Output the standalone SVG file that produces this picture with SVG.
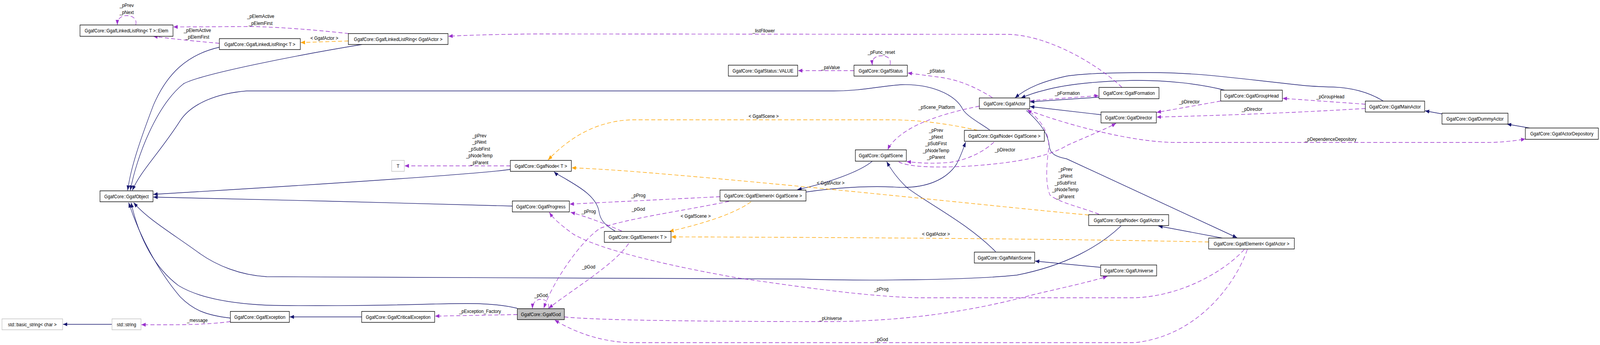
<svg xmlns="http://www.w3.org/2000/svg" width="4800" height="884" viewBox="0 0 4800 884">
<style>
text{font-family:"Liberation Sans",Arial,sans-serif;font-size:13.4px;fill:#000}
.n text{text-anchor:middle}
.l{text-anchor:middle}
.b{fill:#fff;stroke:#000;stroke-width:1.4}
.g{fill:#fff;stroke:#bfbfbf;stroke-width:1.4}
.s{fill:#bfbfbf;stroke:#000;stroke-width:1.4}
.eb{fill:none;stroke:#191970;stroke-width:1.4;marker-end:url(#mb)}
.ep{fill:none;stroke:#9a32cd;stroke-width:1.4;stroke-dasharray:12,7;marker-end:url(#mp)}
.eo{fill:none;stroke:#ffa500;stroke-width:1.4;stroke-dasharray:12,7;marker-end:url(#mo)}
</style>
<defs>
<marker id="mb" markerUnits="userSpaceOnUse" markerWidth="14" markerHeight="11" refX="13" refY="5" orient="auto"><path d="M0,0 L13,5 L0,10 z" fill="#191970"/></marker>
<marker id="mp" markerUnits="userSpaceOnUse" markerWidth="14" markerHeight="11" refX="13" refY="5" orient="auto"><path d="M0,0 L13,5 L0,10 z" fill="#9a32cd"/></marker>
<marker id="mo" markerUnits="userSpaceOnUse" markerWidth="14" markerHeight="11" refX="13" refY="5" orient="auto"><path d="M0,0 L13,5 L0,10 z" fill="#ffa500"/></marker>
</defs>
<rect width="4800" height="884" fill="#fff"/>
<g id="diagram" transform="scale(0.853333 1)">
<g id="connectors">
<path class="eb" d="M658,121 C560,140 500,190 460,270 C420,360 392,430 383,488"/>
<path class="eb" d="M1086,114 C900,140 600,190 550,215 C470,270 410,400 391,488"/>
<path class="eb" d="M2969,333 C2930,310 2895,295 2885,275 C2860,240 2790,215 2706,217 C2640,220 2590,233 2502,233 L740,233 C640,240 570,270 540,310 C480,390 420,440 397,488"/>
<path class="eb" d="M1531,434 C1440,446 900,476 460,498"/>
<path class="eb" d="M1537,528 C1200,520 800,511 460,505"/>
<path class="eb" d="M3363,579 C3300,630 3200,680 3050,705 C2900,718 2600,720 2400,715 L800,709 C720,705 650,680 600,650 C520,600 440,560 401,519"/>
<path class="eb" d="M1552,790 C1480,775 1400,777 1300,779 C1100,784 900,784 800,782 C700,778 600,765 536,732 C470,690 420,620 393,519"/>
<path class="eb" d="M691,815 C620,808 580,795 540,760 C480,700 420,610 386,519"/>
<path class="eb" d="M336,831 L189,831"/>
<path class="eb" d="M1085,812 L869,812"/>
<path class="eb" d="M1845,592 C1810,575 1800,560 1797,542 C1790,505 1740,480 1700,460 C1680,450 1668,445 1662,440"/>
<path class="eb" d="M2418,492 C2500,482 2600,475 2700,480 C2780,482 2840,460 2870,420 C2885,395 2890,380 2897,364"/>
<path class="eb" d="M2617,413 C2580,440 2480,470 2392,486"/>
<path class="eb" d="M2987,645 C2900,570 2780,520 2720,480 C2690,455 2670,430 2660,414"/>
<path class="eb" d="M3301,685 L3105,669"/>
<path class="eb" d="M4150,259 C4110,238 4060,225 4000,223 C3950,222 3920,220 3900,218 C3700,200 3600,186 3450,186 C3350,186 3250,188 3200,195 C3130,208 3080,225 3045,251"/>
<path class="eb" d="M3674,231 C3600,215 3500,205 3400,206 C3300,208 3200,215 3130,232 C3100,238 3080,245 3063,251"/>
<path class="eb" d="M3297,249 L3090,261"/>
<path class="eb" d="M3303,294 L3090,273"/>
<path class="eb" d="M3079,283 C3125,318 3145,345 3148,375 C3150,395 3170,402 3200,407 L3711,609"/>
<path class="eb" d="M3667,610 L3475,579"/>
<path class="eb" d="M4327,292 L4275,284"/>
<path class="eb" d="M4589,328 L4521,318"/>
<path class="eo" d="M1045,105 L902,109"/>
<path class="eo" d="M2933,334 C2850,318 2760,307 2670,307 L1896,307 C1780,310 1700,360 1644,410"/>
<path class="eo" d="M3266,551 C3000,530 2400,474 1937,442 C1850,436 1780,432 1715,430"/>
<path class="eo" d="M2253,517 C2200,550 2100,575 2008,593"/>
<path class="eo" d="M3626,620 C3200,612 2500,608 2014,607"/>
<path class="ep" d="M407,64 C412,50 400,40 380,40 C362,40 352,48 352,64"/>
<path class="ep" d="M658,111 C580,105 520,100 460,93"/>
<path class="ep" d="M1046,86 C950,77 850,70 760,68 L520,69"/>
<path class="ep" d="M3366,224 C3300,170 3150,90 3022,88 L1600,87 C1500,88 1400,90 1345,93"/>
<path class="ep" d="M2562,181 L2394,181"/>
<path class="ep" d="M2670,166 C2675,148 2660,143 2643,143 C2625,143 2615,152 2617,167"/>
<path class="ep" d="M2977,250 C2930,225 2880,205 2820,198 L2723,187"/>
<path class="ep" d="M2938,272 C2860,285 2780,305 2730,330 C2690,350 2670,370 2663,384"/>
<path class="ep" d="M2982,364 C2950,390 2900,410 2850,416 C2800,420 2760,418 2720,414"/>
<path class="ep" d="M2696,415 C2730,428 2800,430 2900,426 C3050,418 3150,400 3200,373 C3260,350 3320,330 3348,316"/>
<path class="ep" d="M3090,258 L3296,245"/>
<path class="ep" d="M3662,259 L3470,288"/>
<path class="ep" d="M4096,278 C3900,288 3700,295 3470,300"/>
<path class="ep" d="M4096,267 L3848,252"/>
<path class="ep" d="M3084,282 C3200,320 3400,365 3527,365 L4459,365 C4510,365 4550,360 4576,356"/>
<path class="ep" d="M3297,549 C3240,530 3180,520 3150,500 C3135,470 3140,420 3146,380 C3150,340 3120,305 3082,281"/>
<path class="ep" d="M1531,425 L1214,425"/>
<path class="ep" d="M691,824 C620,832 540,833 424,832"/>
<path class="ep" d="M1552,806 L1305,810"/>
<path class="ep" d="M1646,790 C1648,772 1635,767 1622,767 C1608,767 1598,775 1597,791"/>
<path class="ep" d="M2187,516 C2050,540 1880,560 1800,585 C1740,620 1660,720 1631,790"/>
<path class="ep" d="M2160,504 L1709,523"/>
<path class="ep" d="M1865,592 C1820,575 1760,555 1712,544"/>
<path class="ep" d="M1886,624 C1840,680 1720,740 1646,790"/>
<path class="ep" d="M1693,812 C1800,822 2200,824 2500,824 C2750,822 2950,790 3100,755 C3200,735 3280,720 3322,708"/>
<path class="ep" d="M3733,639 C3680,690 3550,760 3400,763 L2757,763 C2600,760 2400,735 2212,712 C2000,680 1800,640 1720,600 C1680,575 1660,560 1648,544"/>
<path class="ep" d="M3742,639 C3710,720 3600,860 3404,878 L1886,878 C1800,875 1720,850 1664,820"/>
<text class="l" x="380" y="18">_pPrev</text>
<text class="l" x="380" y="36">_pNext</text>
<text class="l" x="592" y="82">_pElemActive</text>
<text class="l" x="592" y="99">_pElemFirst</text>
<text class="l" x="782" y="46">_pElemActive</text>
<text class="l" x="782" y="64">_pElemFirst</text>
<text class="l" x="973" y="102">&lt; GgafActor &gt;</text>
<text class="l" x="2291" y="83">_listFllower</text>
<text class="l" x="2492" y="177">_paValue</text>
<text class="l" x="2644" y="138">_pFunc_reset</text>
<text class="l" x="2808" y="186">_pStatus</text>
<text class="l" x="2810" y="279">_pScene_Platform</text>
<text class="l" x="2808" y="338">_pPrev</text>
<text class="l" x="2808" y="355">_pNext</text>
<text class="l" x="2808" y="372">_pSubFirst</text>
<text class="l" x="2808" y="390">_pNodeTemp</text>
<text class="l" x="2808" y="407">_pParent</text>
<text class="l" x="3015" y="388">_pDirector</text>
<text class="l" x="3202" y="243">_pFormation</text>
<text class="l" x="3568" y="265">_pDirector</text>
<text class="l" x="3756" y="284">_pDirector</text>
<text class="l" x="3991" y="252">_pGroupHead</text>
<text class="l" x="3992" y="361">_pDependenceDepository</text>
<text class="l" x="3196" y="438">_pPrev</text>
<text class="l" x="3196" y="455">_pNext</text>
<text class="l" x="3196" y="473">_pSubFirst</text>
<text class="l" x="3196" y="490">_pNodeTemp</text>
<text class="l" x="3196" y="508">_pParent</text>
<text class="l" x="1438" y="352">_pPrev</text>
<text class="l" x="1438" y="368">_pNext</text>
<text class="l" x="1438" y="386">_pSubFirst</text>
<text class="l" x="1438" y="403">_pNodeTemp</text>
<text class="l" x="1438" y="421">_pParent</text>
<text class="l" x="2291" y="302">&lt; GgafScene &gt;</text>
<text class="l" x="2492" y="473">&lt; GgafActor &gt;</text>
<text class="l" x="2087" y="558">&lt; GgafScene &gt;</text>
<text class="l" x="2808" y="604">&lt; GgafActor &gt;</text>
<text class="l" x="1915" y="505">_pProg</text>
<text class="l" x="1915" y="540">_pGod</text>
<text class="l" x="1766" y="546">_pProg</text>
<text class="l" x="1766" y="688">_pGod</text>
<text class="l" x="1623" y="761">_pGod</text>
<text class="l" x="592" y="825">_message</text>
<text class="l" x="1440" y="802">_pException_Factory</text>
<text class="l" x="2492" y="820">_pUniverse</text>
<text class="l" x="2644" y="745">_pProg</text>
<text class="l" x="2644" y="874">_pGod</text>
</g>
<g id="n-elem" class="n"><rect class="b" x="240" y="64" width="279" height="29"/><text x="379.5" y="83.5">GgafCore::GgafLinkedListRing&lt; T &gt;::Elem</text></g>
<g id="n-llrT" class="n"><rect class="b" x="658" y="99" width="243" height="28"/><text x="779.5" y="118">GgafCore::GgafLinkedListRing&lt; T &gt;</text></g>
<g id="n-llrA" class="n"><rect class="b" x="1045" y="86" width="299" height="28"/><text x="1194.5" y="105">GgafCore::GgafLinkedListRing&lt; GgafActor &gt;</text></g>
<g id="n-object" class="n"><rect class="b" x="300" y="489" width="159" height="28"/><text x="379.5" y="508">GgafCore::GgafObject</text></g>
<g id="n-basicstring" class="n"><rect class="g" x="6" y="817" width="182" height="28"/><text x="97" y="836">std::basic_string&lt; char &gt;</text></g>
<g id="n-stdstring" class="n"><rect class="g" x="336" y="817" width="87" height="28"/><text x="379.5" y="836">std::string</text></g>
<g id="n-exception" class="n"><rect class="b" x="691" y="798" width="177" height="28"/><text x="779.5" y="817">GgafCore::GgafException</text></g>
<g id="n-critical" class="n"><rect class="b" x="1085" y="798" width="219" height="28"/><text x="1194.5" y="817">GgafCore::GgafCriticalException</text></g>
<g id="n-god" class="n"><rect class="s" x="1552" y="791" width="141" height="28"/><text x="1622.5" y="810">GgafCore::GgafGod</text></g>
<g id="n-T" class="n"><rect class="g" x="1175" y="411" width="38" height="28"/><text x="1194" y="430">T</text></g>
<g id="n-nodeT" class="n"><rect class="b" x="1531" y="411" width="183" height="28"/><text x="1622.5" y="430">GgafCore::GgafNode&lt; T &gt;</text></g>
<g id="n-progress" class="n"><rect class="b" x="1537" y="515" width="171" height="28"/><text x="1622.5" y="534">GgafCore::GgafProgress</text></g>
<g id="n-elemT" class="n"><rect class="b" x="1813" y="593" width="200" height="28"/><text x="1913" y="612">GgafCore::GgafElement&lt; T &gt;</text></g>
<g id="n-elemScene" class="n"><rect class="b" x="2160" y="487" width="258" height="28"/><text x="2289" y="506">GgafCore::GgafElement&lt; GgafScene &gt;</text></g>
<g id="n-value" class="n"><rect class="b" x="2185" y="167" width="208" height="28"/><text x="2289" y="186">GgafCore::GgafStatus::VALUE</text></g>
<g id="n-status" class="n"><rect class="b" x="2562" y="167" width="160" height="28"/><text x="2642" y="186">GgafCore::GgafStatus</text></g>
<g id="n-actor" class="n"><rect class="b" x="2938" y="251" width="151" height="28"/><text x="3013.5" y="270">GgafCore::GgafActor</text></g>
<g id="n-nodeScene" class="n"><rect class="b" x="2893" y="334" width="240" height="28"/><text x="3013" y="353">GgafCore::GgafNode&lt; GgafScene &gt;</text></g>
<g id="n-scene" class="n"><rect class="b" x="2566" y="384" width="153" height="29"/><text x="2642.5" y="403.5">GgafCore::GgafScene</text></g>
<g id="n-mainscene" class="n"><rect class="b" x="2923" y="646" width="181" height="28"/><text x="3013.5" y="665">GgafCore::GgafMainScene</text></g>
<g id="n-universe" class="n"><rect class="b" x="3302" y="679" width="168" height="28"/><text x="3386" y="698">GgafCore::GgafUniverse</text></g>
<g id="n-formation" class="n"><rect class="b" x="3297" y="224" width="180" height="29"/><text x="3387" y="243.5">GgafCore::GgafFormation</text></g>
<g id="n-director" class="n"><rect class="b" x="3303" y="287" width="166" height="28"/><text x="3386" y="306">GgafCore::GgafDirector</text></g>
<g id="n-grouphead" class="n"><rect class="b" x="3662" y="231" width="185" height="28"/><text x="3754.5" y="250">GgafCore::GgafGroupHead</text></g>
<g id="n-mainactor" class="n"><rect class="b" x="4096" y="259" width="178" height="28"/><text x="4185" y="278">GgafCore::GgafMainActor</text></g>
<g id="n-dummy" class="n"><rect class="b" x="4326" y="290" width="198" height="28"/><text x="4425" y="309">GgafCore::GgafDummyActor</text></g>
<g id="n-depository" class="n"><rect class="b" x="4576" y="328" width="219" height="29"/><text x="4685.5" y="347.5">GgafCore::GgafActorDepository</text></g>
<g id="n-nodeActor" class="n"><rect class="b" x="3266" y="550" width="240" height="28"/><text x="3386" y="569">GgafCore::GgafNode&lt; GgafActor &gt;</text></g>
<g id="n-elemActor" class="n"><rect class="b" x="3626" y="610" width="257" height="28"/><text x="3754.5" y="629">GgafCore::GgafElement&lt; GgafActor &gt;</text></g>
</g>
</svg>
